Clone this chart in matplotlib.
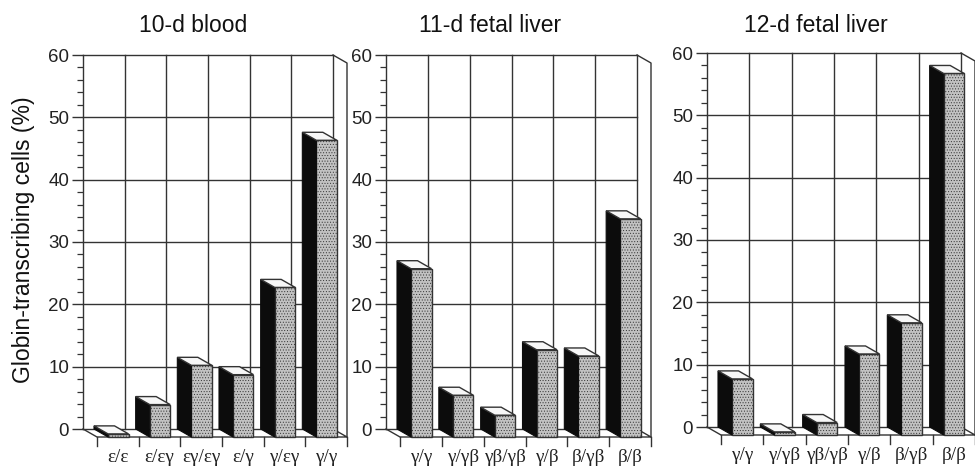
import matplotlib
matplotlib.use("Agg")
import matplotlib.pyplot as plt
from matplotlib.patches import Polygon

titles = ["10-d blood", "11-d fetal liver", "12-d fetal liver"]
labels_blood = ["ε/ε", "ε/εγ", "εγ/εγ", "ε/γ", "γ/εγ", "γ/γ"]
values_blood = [0.5, 5.2, 11.5, 10, 24, 47.6]
labels_11 = ["γ/γ", "γ/γβ", "γβ/γβ", "γ/β", "β/γβ", "β/β"]
values_11 = [27, 6.7, 3.5, 14, 13, 35]
labels_12 = ["γ/γ", "γ/γβ", "γβ/γβ", "γ/β", "β/γβ", "β/β"]
values_12 = [9, 0.5, 2, 13, 18, 58]

W, H = 975, 466
INK = "#333333"
plt.rcParams["hatch.linewidth"] = 0.4
plt.rcParams["hatch.color"] = "#8c8c8c"
fig = plt.figure(figsize=(W / 100, H / 100), dpi=100, facecolor="white")

panels = [
    (83, 333, 55, 429, titles[0], labels_blood, values_blood, 193),
    (386, 637, 55, 429, titles[1], labels_11, values_11, 490),
    (707, 961, 53, 427, titles[2], labels_12, values_12, 816),
]
for left, right, top, bottom, title, labels, values, tx in panels:
    ax = fig.add_axes([left / W, 1 - bottom / H, (right - left) / W, (bottom - top) / H])
    ax.set_xlim(0, 6)
    ax.set_ylim(0, 60)
    ax.patch.set_visible(False)
    slot = (right - left) / 6
    dx = 14 / slot
    dy = -8 / ((bottom - top) / 60)

    for s in ["top", "right", "bottom"]:
        ax.spines[s].set_visible(False)
    ax.spines["left"].set_color(INK)
    ax.spines["left"].set_linewidth(1)

    # back wall grid
    for g in range(0, 61, 10):
        ax.plot([0, 6], [g, g], color=INK, lw=1, clip_on=False, zorder=1)
    for k in range(1, 7):
        ax.plot([k, k], [0, 60], color=INK, lw=1, clip_on=False, zorder=1)
    # floor and side wall
    ax.plot([0, dx, 6 + dx, 6], [0, dy, dy, 0], color=INK, lw=1, clip_on=False, zorder=1)
    ax.plot([6, 6 + dx, 6 + dx], [60, 60 + dy, dy], color=INK, lw=1, clip_on=False, zorder=1)
    # front ticks
    for k in range(7):
        ax.plot([k + dx, k + dx], [dy, dy * 2.1], color=INK, lw=1, clip_on=False, zorder=1)

    # bars
    off = 11 / slot
    wid = 20.5 / slot
    xs = [k + dx + off for k in range(6)]
    ax.bar(xs, [v for v in values], width=wid, bottom=dy, align="edge",
           facecolor="#c2c2c2", edgecolor=INK, linewidth=1, hatch="......",
           clip_on=False, zorder=3)
    for x, v in zip(xs, values):
        ax.add_patch(Polygon([(x - dx, v), (x, v + dy), (x, dy), (x - dx, 0)],
                             closed=True, facecolor="#0c0c0c", edgecolor="#0c0c0c",
                             lw=0.8, clip_on=False, zorder=3))
        ax.add_patch(Polygon([(x - dx, v), (x, v + dy), (x + wid, v + dy), (x + wid - dx, v)],
                             closed=True, facecolor="#f7f7f7", edgecolor=INK,
                             lw=1, clip_on=False, zorder=4))

    ax.set_xticks([])
    ax.set_yticks(range(0, 61, 10))
    ax.set_yticks([m for m in range(0, 61, 2) if m % 10], minor=True)
    ax.tick_params(axis="y", which="major", length=8, width=1, color=INK, pad=2,
                   labelsize=13.5, labelcolor="#222222")
    ax.tick_params(axis="y", which="minor", length=4, width=0.9, color=INK)
    for t in ax.get_yticklabels():
        t.set_fontfamily("Liberation Sans")

    for k, lab in enumerate(labels):
        ax.text(k + dx + 0.5, dy * 3.6, lab, ha="center", va="center",
                family=["Liberation Serif", "DejaVu Serif"], fontsize=13.8,
                color="#222222", clip_on=False)

    fig.text(tx / W, 1 - 25 / H, title, ha="center", va="center",
             family="Liberation Sans", fontsize=16.5, color="#111111")

fig.text(24 / W, 1 - 240 / H, "Globin-transcribing cells (%)", rotation=90,
         ha="center", va="center", family="Liberation Sans", fontsize=16.6, color="#111111")

fig.savefig("out.png", dpi=100, facecolor="white")
